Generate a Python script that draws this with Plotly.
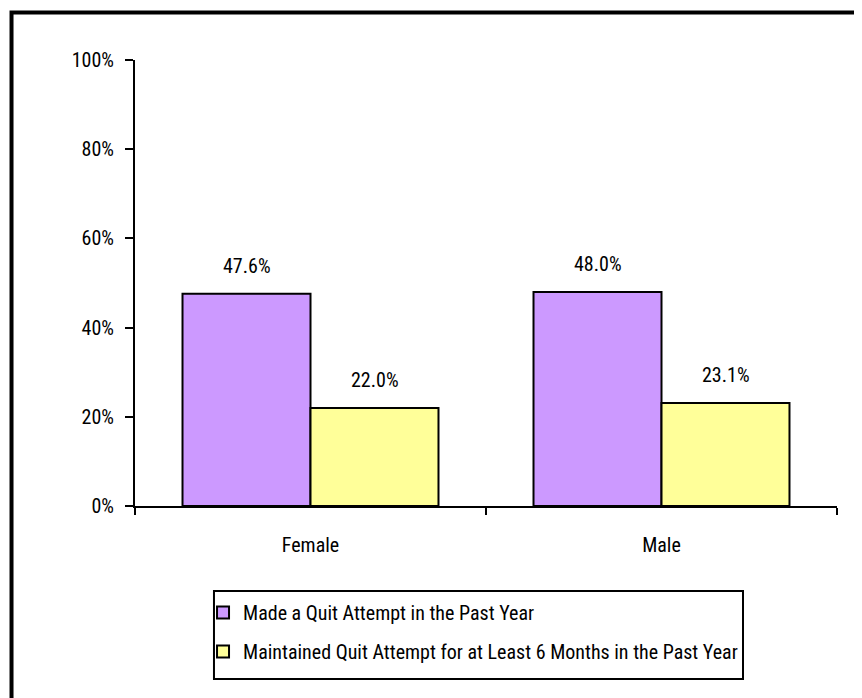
import plotly.graph_objects as go

categories = ["Female", "Male"]
series_names = ["Made a Quit Attempt in the Past Year",
                "Maintained Quit Attempt for at Least 6 Months in the Past Year"]
made_attempt = [47.6, 48.0]
maintained_attempt = [22.0, 23.1]
y_ticks = [0, 20, 40, 60, 80, 100]
y_tick_labels = ["0%", "20%", "40%", "60%", "80%", "100%"]

colors = ["#CC99FF", "#FFFF99"]
FONT = "Roboto Condensed, DejaVu Sans Condensed, sans-serif"
FS = 20
LFS = 20

fig = go.Figure()
series = [made_attempt, maintained_attempt]
for i, (name, vals, col) in enumerate(zip(series_names, series, colors)):
    fig.add_trace(go.Bar(
        x=categories, y=vals, name=name, legendgroup=f"g{i}",
        marker=dict(color=col, line=dict(color="black", width=2)),
        hoverinfo="x+y",
    ))

# value labels above each bar
shift = [-64, 64]
for i, vals in enumerate(series):
    for cat, v in zip(categories, vals):
        fig.add_annotation(x=cat, y=v, text=f"{v:.1f}%", showarrow=False,
                           xshift=shift[i], yshift=28, yanchor="middle",
                           font=dict(family=FONT, size=FS, color="black"))

fig.update_layout(
    width=862, height=698,
    paper_bgcolor="white", plot_bgcolor="white",
    margin=dict(l=127, r=33, t=52, b=200),
    barmode="group", bargap=0.2707, bargroupgap=0,
    font=dict(family=FONT, size=FS, color="black"),
    showlegend=True,
    legend=dict(
        x=0.0969, y=-0.1951, xanchor="left", yanchor="top",
        orientation="v", borderwidth=0,
        bgcolor="rgba(0,0,0,0)", font=dict(family=FONT, size=LFS, color="black"),
        traceorder="grouped", tracegroupgap=10,
    ),
    xaxis=dict(
        showline=True, linecolor="black", linewidth=2,
        ticks="outside", tickson="boundaries", ticklen=7, tickwidth=2, tickcolor="black",
        showgrid=False, zeroline=False,
        tickfont=dict(family=FONT, size=FS, color="black"),
        ticklabelstandoff=20,
    ),
    yaxis=dict(
        range=[0, 100], tickvals=y_ticks, ticktext=y_tick_labels,
        showline=True, linecolor="black", linewidth=2,
        ticks="outside", ticklen=8, tickwidth=2, tickcolor="black",
        showgrid=False, zeroline=False,
        tickfont=dict(family=FONT, size=FS, color="black"),
        ticklabelstandoff=7,
    ),
    shapes=[
        # outer frame
        dict(type="rect", xref="paper", yref="paper",
             x0=-0.1759, x1=1.3, y0=-0.8, y1=1.1065,
             line=dict(color="black", width=4), fillcolor="rgba(0,0,0,0)", layer="below"),
        # legend frame
        dict(type="rect", xref="paper", yref="paper",
             x0=0.1125, x1=0.8661, y0=-0.3879, y1=-0.1906,
             line=dict(color="black", width=2), fillcolor="rgba(0,0,0,0)", layer="below"),
    ],
)

fig.write_html("out.html")
